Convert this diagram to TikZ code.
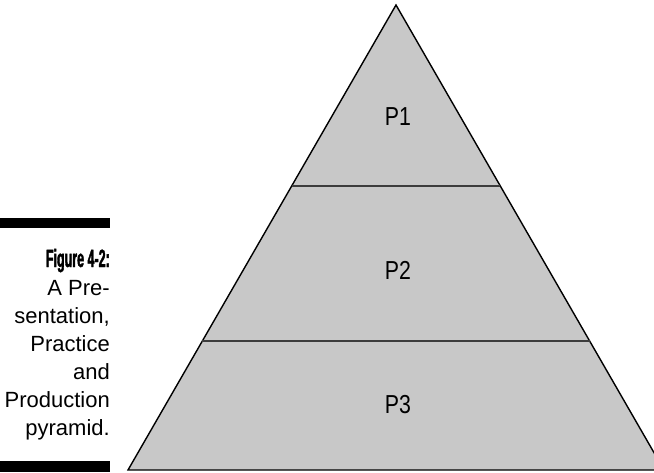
\documentclass[tikz,border=0pt]{standalone}
\usepackage{fontspec}
\setmainfont{Liberation Sans}
\newfontfamily\figfont[FakeStretch=0.5,FakeBold=1.5]{Liberation Sans Bold}
\newfontfamily\levelfont[FakeStretch=0.82]{Liberation Sans}
\usetikzlibrary{calc}
\definecolor{pyrgray}{RGB}{200,200,200}
\definecolor{rulegray}{RGB}{60,60,60}

\begin{document}
\begin{tikzpicture}[x=1pt,y=-1pt,
    level/.style={font=\levelfont\fontsize{26}{26}\selectfont,inner sep=0pt},
    caption/.style={font=\fontsize{22}{28}\selectfont,align=right,inner sep=0pt},
    divider/.style={draw=rulegray,line width=1.4pt}]
  \useasboundingbox (0,0) rectangle (654,472);
  \clip (0,0) rectangle (654,472);
  % pyramid
  \coordinate (apex) at (396,5);
  \coordinate (bl) at (128,470);
  \coordinate (br) at (664,470);
  \draw[fill=pyrgray,line width=1.4pt] (apex) -- (bl) -- (br) -- cycle;
  \coordinate (d1l) at ($(apex)!0.389!(bl)$);
  \coordinate (d1r) at ($(apex)!0.389!(br)$);
  \coordinate (d2l) at ($(apex)!0.7226!(bl)$);
  \coordinate (d2r) at ($(apex)!0.7226!(br)$);
  \draw[divider] (d1l) -- (d1r);
  \draw[divider] (d2l) -- (d2r);
  \node[level] (p1) at (398,117) {P1};
  \node[level] (p2) at (398,270) {P2};
  \node[level] (p3) at (398,405) {P3};
  % caption
  \fill (0,218) rectangle (110,228);
  \fill (0,461) rectangle (110,472);
  \node[caption,anchor=base east] (cap) at (110,435)
    {{\figfont\fontsize{25}{28}\selectfont Figure 4-2:}\\ A Pre-\\ sentation,\\ Practice\\ and\\ Production\\ pyramid.};
\end{tikzpicture}
\end{document}
